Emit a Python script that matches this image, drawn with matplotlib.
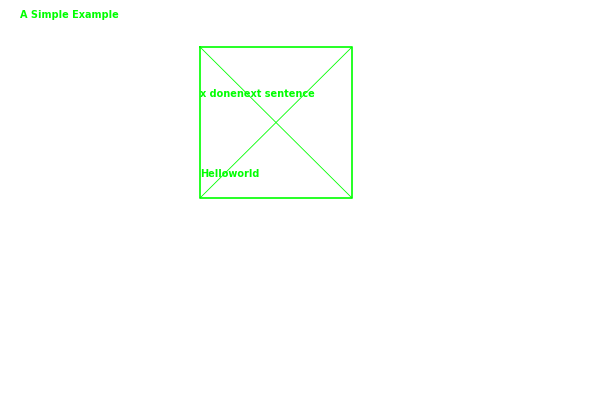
import matplotlib
matplotlib.use("Agg")
import matplotlib.pyplot as plt

title = "A Simple Example"
texts = ["x donenext sentence", "Helloworld"]
text_x = [200, 200]
text_y = [94, 174]
box_x = [200, 352]
box_y = [47, 198]
green = "#00ff00"

fig = plt.figure(figsize=(6, 4), dpi=100)
ax = fig.add_axes([0, 0, 1, 1])
ax.set_xlim(0, 600)
ax.set_ylim(400, 0)
ax.axis("off")

x0, x1 = box_x
y0, y1 = box_y
ax.plot([x0, x1, x1, x0, x0], [y0, y0, y1, y1, y0], color=green, lw=1.2)
ax.plot([x0, x1], [y0, y1], color=green, lw=0.6)
ax.plot([x0, x1], [y1, y0], color=green, lw=0.6)

ax.text(20, 15, title, color=green, fontsize=7, va="center", ha="left", fontweight="bold")
for t, x, y in zip(texts, text_x, text_y):
    ax.text(x, y, t, color=green, fontsize=7, va="center", ha="left", fontweight="bold")

fig.savefig("out.png", dpi=100)
